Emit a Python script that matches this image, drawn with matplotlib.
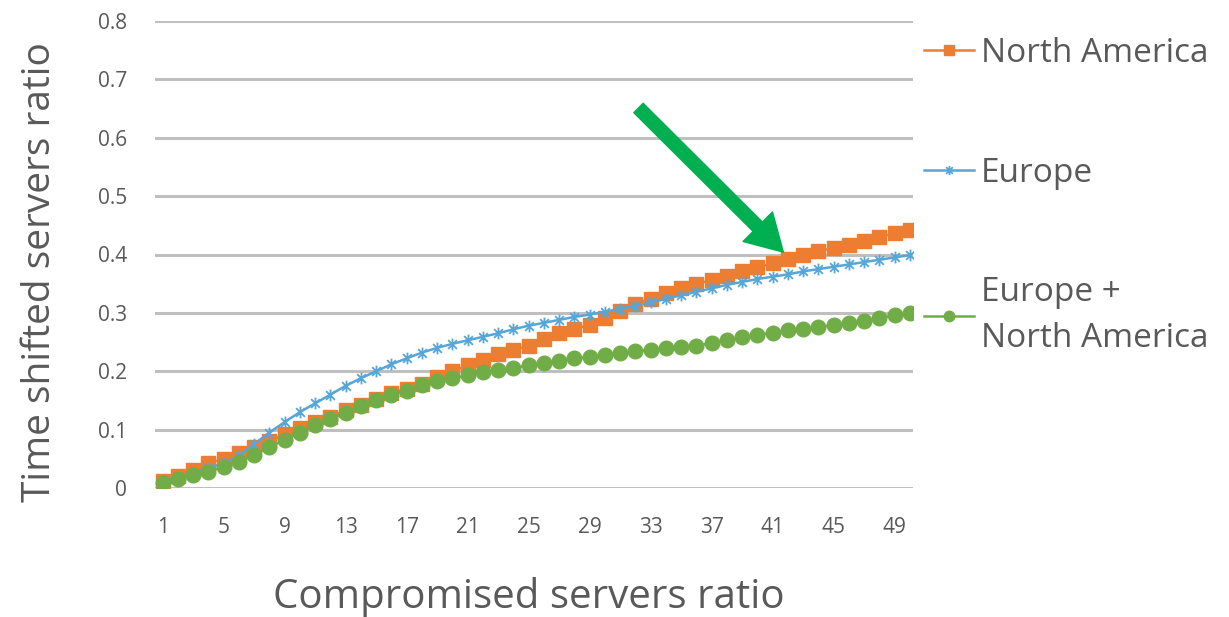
import numpy as np
import matplotlib
matplotlib.use("Agg")
import matplotlib.pyplot as plt
from matplotlib.path import Path
from matplotlib.lines import Line2D

plt.rcParams['font.family'] = ['Open Sans', 'DejaVu Sans']

# compromised servers ratio (category axis 1..50)
x = np.arange(1, 51)
tick_labels = [str(v) for v in range(1, 50, 4)]

north_america = [0.012, 0.020, 0.030, 0.042, 0.050, 0.060, 0.070, 0.080, 0.092, 0.103,
                 0.113, 0.122, 0.133, 0.143, 0.153, 0.163, 0.170, 0.178, 0.190, 0.200,
                 0.210, 0.220, 0.230, 0.237, 0.243, 0.256, 0.265, 0.273, 0.279, 0.292,
                 0.303, 0.315, 0.324, 0.334, 0.343, 0.350, 0.356, 0.364, 0.372, 0.378,
                 0.385, 0.393, 0.400, 0.406, 0.411, 0.417, 0.423, 0.430, 0.436, 0.442]

europe = [0.010, 0.018, 0.025, 0.035, 0.042, 0.055, 0.075, 0.095, 0.113, 0.130,
          0.145, 0.160, 0.175, 0.188, 0.200, 0.212, 0.222, 0.232, 0.240, 0.247,
          0.253, 0.259, 0.265, 0.272, 0.278, 0.283, 0.288, 0.293, 0.297, 0.302,
          0.307, 0.312, 0.318, 0.324, 0.330, 0.336, 0.342, 0.348, 0.353, 0.358,
          0.362, 0.366, 0.371, 0.375, 0.379, 0.383, 0.387, 0.391, 0.395, 0.399]

europe_na = [0.008, 0.015, 0.022, 0.028, 0.036, 0.045, 0.056, 0.070, 0.082, 0.095,
             0.108, 0.118, 0.129, 0.140, 0.151, 0.160, 0.166, 0.176, 0.183, 0.188,
             0.193, 0.198, 0.202, 0.206, 0.210, 0.214, 0.218, 0.222, 0.225, 0.228,
             0.231, 0.234, 0.237, 0.239, 0.242, 0.244, 0.248, 0.253, 0.258, 0.262,
             0.266, 0.270, 0.273, 0.276, 0.279, 0.282, 0.286, 0.291, 0.296, 0.300]

c_na = '#ED7D31'
c_eu = '#56A6D8'
c_both = '#70AD47'
grey = '#595959'

# Excel-style star: an x with a vertical bar through it
star = Path([(-1, -1), (1, 1), (-1, 1), (1, -1), (0, -1.35), (0, 1.35)],
            [Path.MOVETO, Path.LINETO, Path.MOVETO, Path.LINETO, Path.MOVETO, Path.LINETO])

na_style = dict(color=c_na, lw=1.8, marker='s', ms=10, mec=c_na)
eu_style = dict(color=c_eu, lw=1.8, marker=star, ms=8.5, mew=1.3, mec=c_eu)
both_style = dict(color=c_both, lw=1.8, marker='o', ms=10.5, mec=c_both)

fig = plt.figure(figsize=(12.29, 6.17), dpi=100)
ax = fig.add_axes([155 / 1229, 1 - 488 / 617, (913 - 155) / 1229, 467 / 617])

ax.plot(x, north_america, zorder=3, **na_style)
ax.plot(x, europe, zorder=4, **eu_style)
ax.plot(x, europe_na, zorder=5, **both_style)

ax.set_xlim(0.5, 50.2)
ax.set_ylim(0, 0.8)
ax.set_yticks(np.arange(0, 0.81, 0.1))
ax.set_yticklabels(['0'] + ['%.1f' % v for v in np.arange(0.1, 0.81, 0.1)])
ax.set_xticks(range(1, 50, 4))
ax.set_xticklabels(tick_labels)
ax.yaxis.grid(True, color='#BFBFBF', lw=2.2)
ax.set_axisbelow(True)
for s in ax.spines.values():
    s.set_visible(False)
ax.tick_params(axis='y', length=0, pad=20, labelsize=15, labelcolor=grey)
ax.tick_params(axis='x', length=0, pad=21, labelsize=15, labelcolor=grey)

# pointer to where North America overtakes
ax.annotate('', xy=(41.7, 0.404), xytext=(32.2, 0.651),
            arrowprops=dict(width=9.5, headwidth=30, headlength=26,
                            color='#00B050', shrink=0), zorder=6)

fig.text(40 / 1229, 1 - 272 / 617, 'Time shifted servers ratio', rotation=90,
         ha='center', va='center', fontsize=28, color=grey)
fig.text(529 / 1229, 1 - 597 / 617, 'Compromised servers ratio',
         ha='center', va='center', fontsize=29, color=grey)

# legend handles use smaller markers than the plotted series
handles = [Line2D([], [], **dict(na_style, ms=7.5)),
           Line2D([], [], **dict(eu_style, ms=6.5)),
           Line2D([], [], **dict(both_style, ms=7.5))]
labels = ['North America', 'Europe', 'Europe +\nNorth America']
leg = fig.legend(handles, labels, loc='upper left',
                 bbox_to_anchor=(924 / 1229, 1 - 37 / 617),
                 frameon=False, fontsize=24, handlelength=1.5, handletextpad=0.2,
                 labelspacing=2.6, borderaxespad=0, borderpad=0, labelcolor=grey)
for t in leg.get_texts():
    t.set_linespacing(1.5)

fig.savefig('out.png', dpi=100)
